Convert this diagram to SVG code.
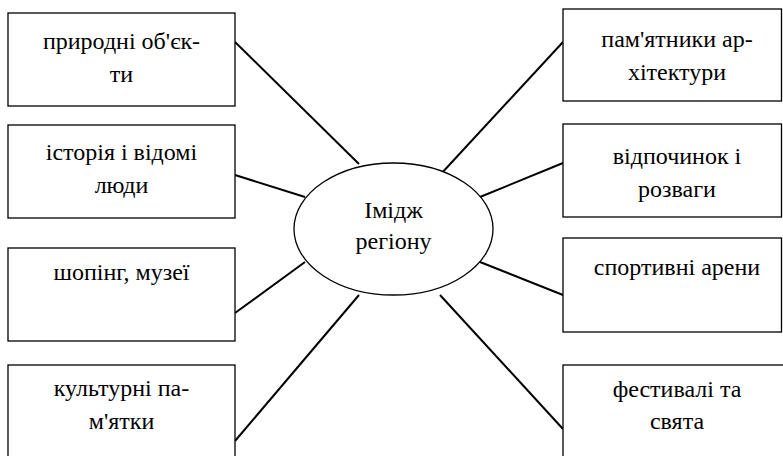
<svg xmlns="http://www.w3.org/2000/svg" width="783" height="456" viewBox="0 0 783 456">
<style>
.box{fill:#fff;stroke:#000;stroke-width:1.3}
.c line{stroke:#000;stroke-width:2}
</style>
<rect width="783" height="456" fill="#fff"/>
<g class="c" id="connectors">
<line x1="235" y1="42" x2="359" y2="164"/>
<line x1="235" y1="175" x2="305" y2="197"/>
<line x1="235" y1="313" x2="305" y2="262"/>
<line x1="235" y1="441" x2="359" y2="295"/>
<line x1="563" y1="42" x2="440" y2="175"/>
<line x1="563" y1="163" x2="480" y2="197"/>
<line x1="563" y1="295" x2="480" y2="262"/>
<line x1="563" y1="429" x2="440" y2="295"/>
</g>
<g font-family="Liberation Serif" font-size="24" text-anchor="middle" fill="#000">
<g id="center">
<ellipse class="box" cx="393.5" cy="229" rx="99.5" ry="66"/>
<text x="393.5" y="218">Імідж</text>
<text x="393.5" y="249">регіону</text>
</g>
<g id="n1"><rect class="box" x="8" y="13" width="227" height="93"/>
<text x="121.5" y="49">природні об'єк-</text><text x="121.5" y="82">ти</text></g>
<g id="n2"><rect class="box" x="8" y="125" width="227" height="93"/>
<text x="121.5" y="160">історія і відомі</text><text x="121.5" y="193">люди</text></g>
<g id="n3"><rect class="box" x="8" y="248" width="227" height="93"/>
<text x="121.5" y="280">шопінг, музеї</text></g>
<g id="n4"><rect class="box" x="8" y="365" width="227" height="100"/>
<text x="121.5" y="396">культурні па-</text><text x="121.5" y="429">м'ятки</text></g>
<g id="n5"><rect class="box" x="563" y="9" width="218.5" height="92"/>
<text x="677" y="47">пам'ятники ар-</text><text x="677" y="80">хітектури</text></g>
<g id="n6"><rect class="box" x="563" y="124" width="218.5" height="93"/>
<text x="677" y="164">відпочинок і</text><text x="677" y="197">розваги</text></g>
<g id="n7"><rect class="box" x="563" y="238" width="218.5" height="94"/>
<text x="677" y="275">спортивні арени</text></g>
<g id="n8"><rect class="box" x="563" y="365" width="230" height="100"/>
<text x="677" y="397">фестивалі та</text><text x="677" y="429">свята</text></g>
</g>
</svg>
